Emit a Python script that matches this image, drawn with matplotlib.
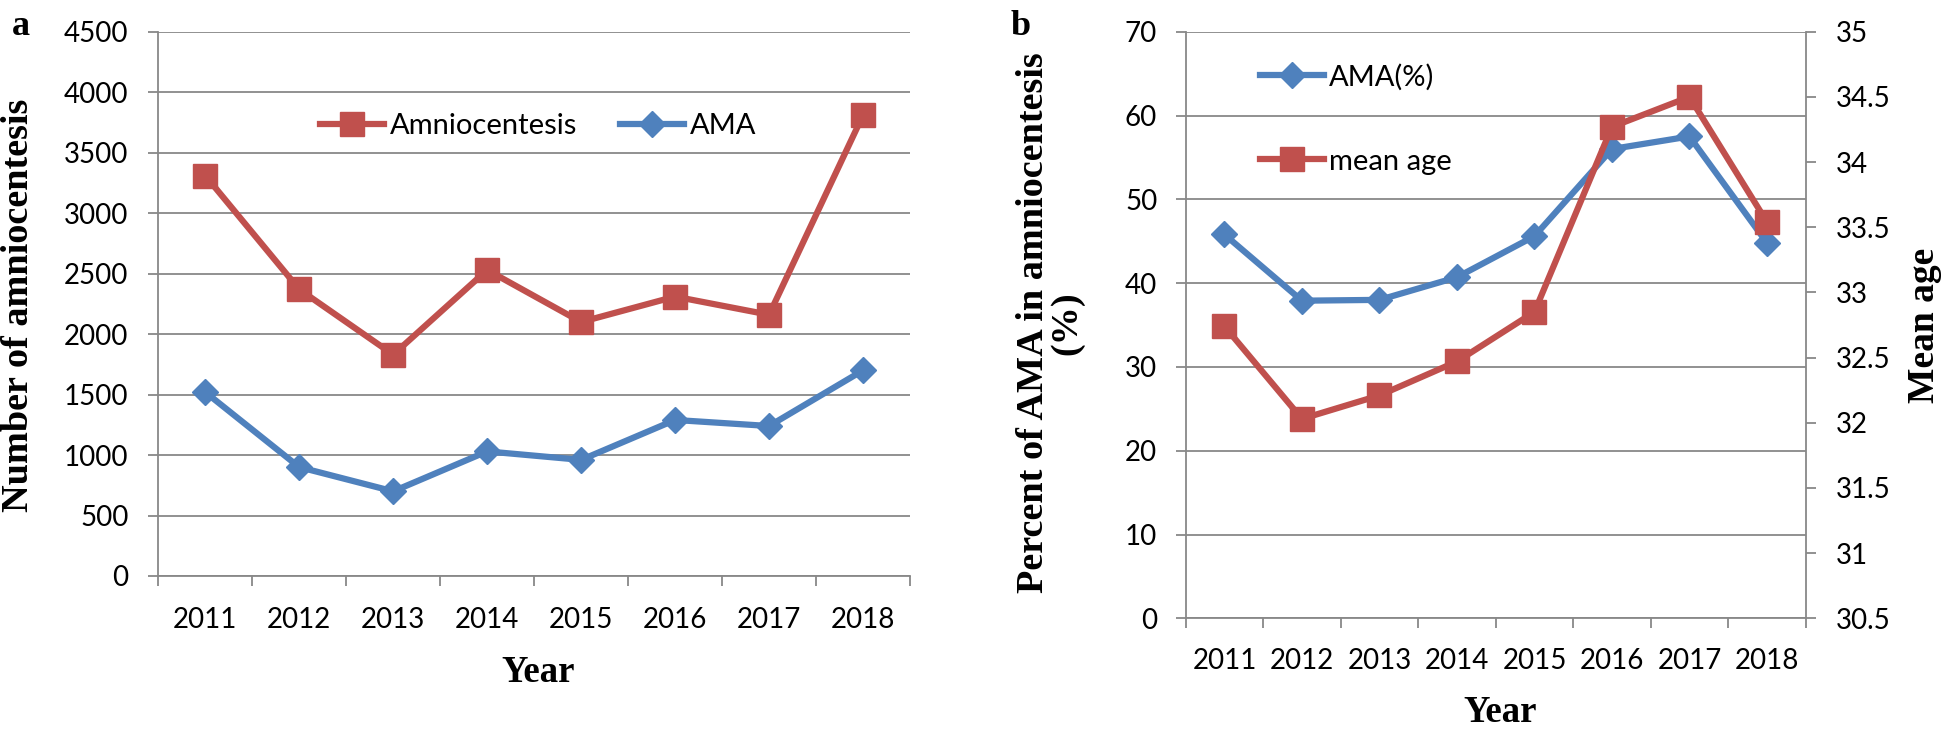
import matplotlib
matplotlib.use("Agg")
import matplotlib.pyplot as plt
import numpy as np

# ---------------- data ----------------
years = ["2011", "2012", "2013", "2014", "2015", "2016", "2017", "2018"]
amniocentesis = [3310, 2370, 1830, 2530, 2100, 2310, 2160, 3810]
ama_count = [1520, 900, 700, 1030, 960, 1290, 1240, 1700]
ama_pct = [45.8, 37.9, 38.0, 40.7, 45.6, 56.0, 57.5, 44.8]
mean_age = [32.74, 32.03, 32.21, 32.47, 32.85, 34.27, 34.50, 33.54]

count_ticks = [0, 500, 1000, 1500, 2000, 2500, 3000, 3500, 4000, 4500]
pct_ticks = [0, 10, 20, 30, 40, 50, 60, 70]
age_ticks = [30.5, 31, 31.5, 32, 32.5, 33, 33.5, 34, 34.5, 35]

# ---------------- style ----------------
RED = "#C0504D"
BLUE = "#4F81BD"
GRID = "#888888"
TICKFONT = "Lato"
LABELFONT = "Liberation Serif"
TICKSIZE = 20
LEGSIZE = 21
LABELSIZE = 27.5
LW = 4.5
SQ = 17
DM = 13

W, H = 1948, 737
fig = plt.figure(figsize=(W / 100, H / 100), dpi=100)


def frac(x0, y0, x1, y1):
    return [x0 / W, 1 - y1 / H, (x1 - x0) / W, (y1 - y0) / H]


def style_category_axis(ax, n, pad):
    x = np.arange(1, n + 1)
    ax.set_xlim(0.5, n + 0.5)
    ax.set_xticks(x)
    ax.set_xticklabels(years, fontfamily=TICKFONT, fontsize=TICKSIZE)
    ax.set_xticks(np.arange(0.5, n + 1.0, 1.0), minor=True)
    ax.tick_params(axis="x", which="major", length=0, pad=pad)
    ax.tick_params(axis="x", which="minor", length=7.5, width=1.3,
                   color=GRID, direction="out")
    return x


# ================= panel a =================
axa = fig.add_axes(frac(158.3, 31.7, 910, 576))
x = style_category_axis(axa, len(years), pad=22)
axa.set_ylim(0, 4500)
axa.set_yticks(count_ticks)
axa.set_yticklabels([str(v) for v in count_ticks], fontfamily=TICKFONT,
                    fontsize=TICKSIZE)
axa.tick_params(axis="y", length=7.5, width=1.3, color=GRID, pad=14)
axa.yaxis.grid(True, color=GRID, lw=1.3)
axa.set_axisbelow(True)
for s in ["top", "right"]:
    axa.spines[s].set_visible(False)
for s in ["left", "bottom"]:
    axa.spines[s].set_color(GRID)
    axa.spines[s].set_linewidth(1.3)

la1, = axa.plot(x, amniocentesis, color=RED, lw=LW, marker="s", ms=SQ,
                label="Amniocentesis", clip_on=False, zorder=3)
la2, = axa.plot(x, ama_count, color=BLUE, lw=LW, marker="D", ms=DM,
                label="AMA", clip_on=False, zorder=3)
axa.legend(handles=[la1, la2], loc="center left",
           bbox_to_anchor=(0.215, 0.826), ncol=2, frameon=False,
           borderpad=0, borderaxespad=0, handlelength=2.2,
           handletextpad=0.2, columnspacing=1.45,
           prop={"family": TICKFONT, "size": LEGSIZE})

fig.text(19 / W, 1 - 305 / H, "Number of amniocentesis", rotation=90,
         ha="center", va="center", fontfamily=LABELFONT,
         fontweight="bold", fontsize=LABELSIZE)
fig.text(538 / W, 1 - 672 / H, "Year", ha="center", va="center",
         fontfamily=LABELFONT, fontweight="bold", fontsize=26.5)
fig.text(21 / W, 1 - 35 / H, "a", ha="center", va="baseline",
         fontfamily=LABELFONT, fontweight="bold", fontsize=26)

# ================= panel b =================
axb = fig.add_axes(frac(1185.7, 31.7, 1805.7, 618.3))
x = style_category_axis(axb, len(years), pad=21.5)
axb.set_ylim(0, 70)
axb.set_yticks(pct_ticks)
axb.set_yticklabels([str(v) for v in pct_ticks], fontfamily=TICKFONT,
                    fontsize=TICKSIZE)
axb.tick_params(axis="y", length=7.5, width=1.3, color=GRID, pad=13)
axb.yaxis.grid(True, color=GRID, lw=1.3)
axb.set_axisbelow(True)
for s in ["top", "right"]:
    axb.spines[s].set_visible(False)
for s in ["left", "bottom"]:
    axb.spines[s].set_color(GRID)
    axb.spines[s].set_linewidth(1.3)

lb1, = axb.plot(x, ama_pct, color=BLUE, lw=LW, marker="D", ms=DM,
                label="AMA(%)", clip_on=False, zorder=3)

axc = axb.twinx()
axc.set_ylim(30.5, 35)
axc.set_yticks(age_ticks)
axc.set_yticklabels([f"{v:g}" for v in age_ticks], fontfamily=TICKFONT,
                    fontsize=TICKSIZE)
axc.tick_params(axis="y", length=7.5, width=1.3, color=GRID, pad=14)
for s in ["top", "left", "bottom"]:
    axc.spines[s].set_visible(False)
axc.spines["right"].set_color(GRID)
axc.spines["right"].set_linewidth(1.3)
lb2, = axc.plot(x, mean_age, color=RED, lw=LW, marker="s", ms=SQ,
                label="mean age", clip_on=False, zorder=3)

axc.legend(handles=[lb1, lb2], loc="upper left",
           bbox_to_anchor=(0.12, 0.946), bbox_transform=axb.transAxes,
           frameon=False, borderpad=0, borderaxespad=0, handlelength=2.2,
           handletextpad=0.15, labelspacing=2.0,
           prop={"family": TICKFONT, "size": LEGSIZE})

fig.text(1050 / W, 1 - 323 / H, "Percent of AMA in amniocentesis\n(%)",
         rotation=90, ha="center", va="center", multialignment="center",
         linespacing=0.95, fontfamily=LABELFONT, fontweight="bold",
         fontsize=LABELSIZE)
fig.text(1925 / W, 1 - 325 / H, "Mean age", rotation=90, ha="center",
         va="center", fontfamily=LABELFONT, fontweight="bold",
         fontsize=27)
fig.text(1500 / W, 1 - 713 / H, "Year", ha="center", va="center",
         fontfamily=LABELFONT, fontweight="bold", fontsize=26.5)
fig.text(1021 / W, 1 - 35 / H, "b", ha="center", va="baseline",
         fontfamily=LABELFONT, fontweight="bold", fontsize=26)

fig.savefig("out.png", dpi=100, facecolor="white")
